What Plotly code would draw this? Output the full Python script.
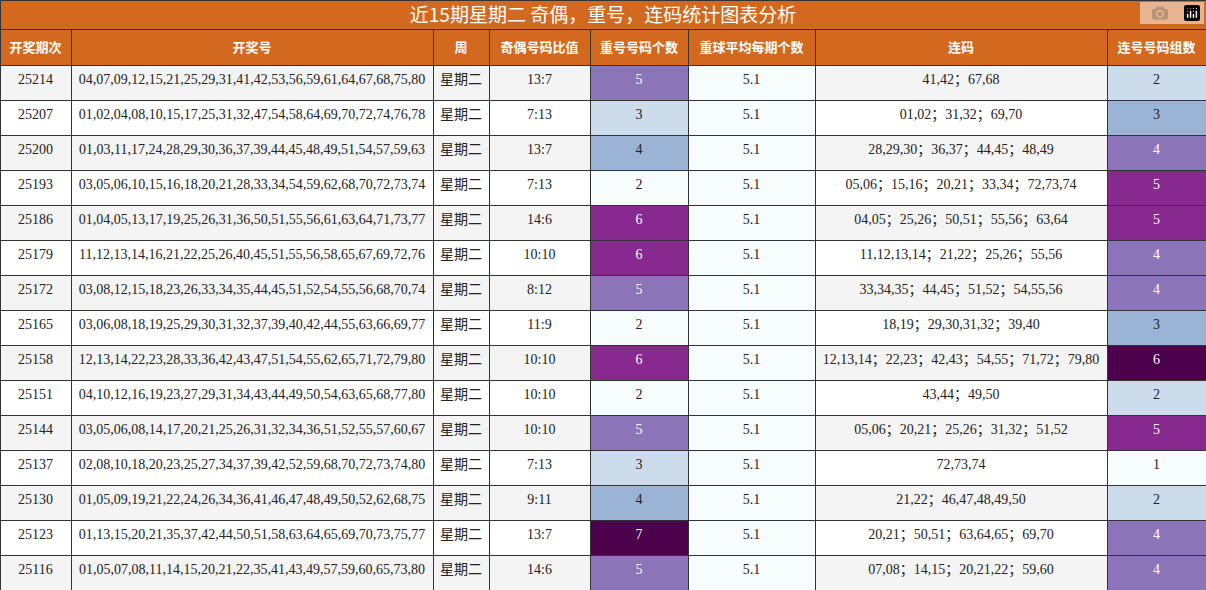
import plotly.graph_objects as go

periods = ["25214","25207","25200","25193","25186","25179","25172","25165","25158","25151","25144","25137","25130","25123","25116"]
numbers = ["04,07,09,12,15,21,25,29,31,41,42,53,56,59,61,64,67,68,75,80",
"01,02,04,08,10,15,17,25,31,32,47,54,58,64,69,70,72,74,76,78",
"01,03,11,17,24,28,29,30,36,37,39,44,45,48,49,51,54,57,59,63",
"03,05,06,10,15,16,18,20,21,28,33,34,54,59,62,68,70,72,73,74",
"01,04,05,13,17,19,25,26,31,36,50,51,55,56,61,63,64,71,73,77",
"11,12,13,14,16,21,22,25,26,40,45,51,55,56,58,65,67,69,72,76",
"03,08,12,15,18,23,26,33,34,35,44,45,51,52,54,55,56,68,70,74",
"03,06,08,18,19,25,29,30,31,32,37,39,40,42,44,55,63,66,69,77",
"12,13,14,22,23,28,33,36,42,43,47,51,54,55,62,65,71,72,79,80",
"04,10,12,16,19,23,27,29,31,34,43,44,49,50,54,63,65,68,77,80",
"03,05,06,08,14,17,20,21,25,26,31,32,34,36,51,52,55,57,60,67",
"02,08,10,18,20,23,25,27,34,37,39,42,52,59,68,70,72,73,74,80",
"01,05,09,19,21,22,24,26,34,36,41,46,47,48,49,50,52,62,68,75",
"01,13,15,20,21,35,37,42,44,50,51,58,63,64,65,69,70,73,75,77",
"01,05,07,08,11,14,15,20,21,22,35,41,43,49,57,59,60,65,73,80"]
weekday = ["星期二"]*15
odd_even = ["13:7","7:13","13:7","7:13","14:6","10:10","8:12","11:9","10:10","10:10","10:10","7:13","9:11","13:7","14:6"]
repeat = [5,3,4,2,6,6,5,2,6,2,5,3,4,7,5]
avg = ["5.1"]*15
consec = ["41,42；67,68","01,02；31,32；69,70","28,29,30；36,37；44,45；48,49",
"05,06；15,16；20,21；33,34；72,73,74","04,05；25,26；50,51；55,56；63,64",
"11,12,13,14；21,22；25,26；55,56","33,34,35；44,45；51,52；54,55,56",
"18,19；29,30,31,32；39,40","12,13,14；22,23；42,43；54,55；71,72；79,80",
"43,44；49,50","05,06；20,21；25,26；31,32；51,52","72,73,74","21,22；46,47,48,49,50",
"20,21；50,51；63,64,65；69,70","07,08；14,15；20,21,22；59,60"]
groups = [2,3,4,5,5,4,4,3,6,2,5,1,2,4,4]
headers = ["<b>开奖期次</b>","<b>开奖号</b>","<b>周</b>","<b>奇偶号码比值</b>","<b>重号号码个数</b>","<b>重球平均每期个数</b>","<b>连码</b>","<b>连号号码组数</b>"]
title = "近15期星期二 奇偶，重号，连码统计图表分析"

rep_col = {2:"#f7fcfd",3:"#ccdcea",4:"#9bb4d6",5:"#8c74b8",6:"#88298f",7:"#4d004b"}
grp_col = {1:"#f7fcfd",2:"#ccdcea",3:"#9bb4d6",4:"#8c74b8",5:"#88298f",6:"#4d004b"}
def fc(c): return "white" if c in ("#8c74b8","#88298f","#4d004b") else "#222"

stripe = ["#f4f4f4" if i%2==0 else "white" for i in range(15)]
rc = [rep_col[v] for v in repeat]; gc = [grp_col[v] for v in groups]
fill = [stripe, stripe, stripe, stripe, rc, ["#f7fcfd"]*15, stripe, gc]
fcol = [["#222"]*15]*4 + [[fc(c) for c in rc], ["#222"]*15, ["#222"]*15, [fc(c) for c in gc]]
orange = "#d2691e"

fig = go.Figure()
fig.add_trace(go.Table(
    header=dict(values=[title], fill_color=orange, line_color="#333",
                font=dict(color="white", size=19, family="Noto Sans CJK SC"),
                align="center", height=29),
    cells=dict(values=[[]]),
    domain=dict(x=[0,1], y=[561/590, 1])))
fig.add_trace(go.Table(
    columnwidth=[71,362,56,101,98,127,292,99],
    header=dict(values=headers, fill_color=orange, line_color="#333",
                font=dict(color="white", size=13, family="Noto Sans CJK SC"),
                align="center", height=36),
    cells=dict(values=[periods, numbers, weekday, odd_even, [str(v) for v in repeat], avg, consec, [str(v) for v in groups]],
               fill_color=fill, line_color="#333",
               font=dict(color=fcol, size=14, family="Liberation Serif, Noto Sans CJK SC"),
               align="center", height=35),
    domain=dict(x=[0,1], y=[0, 561/590])))
fig.update_layout(width=1206, height=590, margin=dict(l=0,r=0,t=0,b=0), paper_bgcolor="white")
fig.write_html("out.html", post_script="document.body.style.margin='0';")
